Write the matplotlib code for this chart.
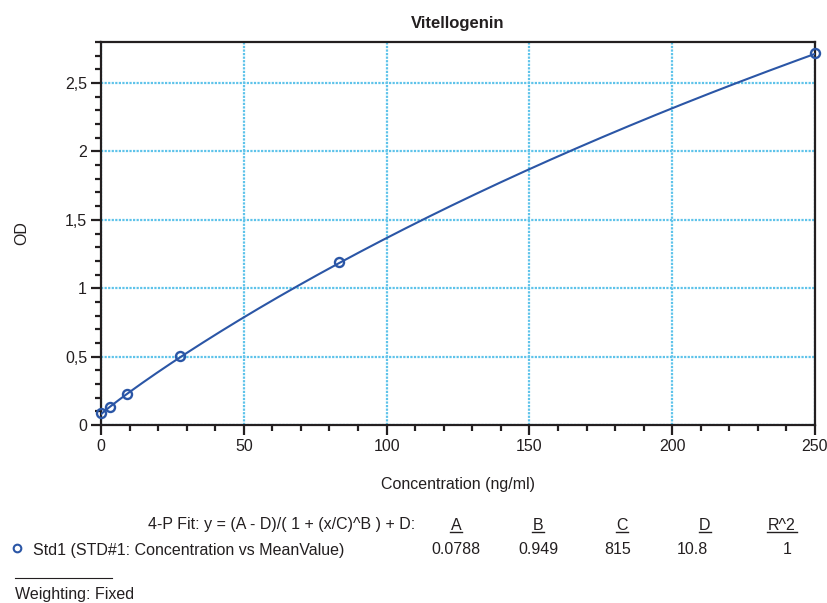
import numpy as np
import matplotlib
matplotlib.use("Agg")
import matplotlib.pyplot as plt
from matplotlib.ticker import MultipleLocator, FuncFormatter
from matplotlib.lines import Line2D

plt.rcParams['font.family'] = ['Liberation Sans', 'DejaVu Sans']

# standards (concentration, mean OD)
conc = [0, 3.09, 9.26, 27.8, 83.3, 250]
od = [0.09, 0.133, 0.228, 0.503, 1.19, 2.72]

# 4-P fit parameters shown in the chart
fit_names = ['A', 'B', 'C', 'D', 'R^2']
fit_vals = ['0.0788', '0.949', '815', '10.8', '1']
A, B, C, D = 0.0788, 0.949, 815, 10.8

blue = '#2b56a6'
grid_col = '#5ec3ea'
txt = '#231f20'

fig = plt.figure(figsize=(8.28, 6.03), dpi=100)
ax = fig.add_axes([101/828, 1-425/603, (815-101)/828, (425-42)/603])

xc = np.linspace(0, 250, 400)
yc = (A - D) / (1 + (xc / C) ** B) + D
ax.plot(xc, yc, color=blue, lw=1.5, zorder=3)
ax.plot(conc, od, 'o', mfc='none', mec=blue, mew=1.7, ms=6.5, zorder=4, clip_on=False)

ax.set_xlim(0, 250)
ax.set_ylim(0, 2.8)
ax.xaxis.set_major_locator(MultipleLocator(50))
ax.xaxis.set_minor_locator(MultipleLocator(10))
ax.yaxis.set_major_locator(MultipleLocator(0.5))
ax.yaxis.set_minor_locator(MultipleLocator(0.1))
ax.yaxis.set_major_formatter(FuncFormatter(lambda v, p: ('%g' % v).replace('.', ',')))
ax.grid(True, which='major', color=grid_col, ls=(0, (1, 0.6)), lw=1.6)
ax.set_axisbelow(True)
for s in ax.spines.values():
    s.set_color(txt)
    s.set_linewidth(1.6)
ax.tick_params(which='major', direction='out', length=7, width=1.6, color=txt,
               labelsize=11.5, labelcolor=txt, pad=3)
ax.tick_params(which='minor', direction='out', length=4, width=1.6, color=txt)

ax.set_title('Vitellogenin', fontsize=12, fontweight='bold', color=txt, pad=10)
ax.set_xlabel('Concentration (ng/ml)', fontsize=11.5, color=txt)
ax.set_ylabel('OD', fontsize=11.5, color=txt)
ax.xaxis.set_label_coords(0.5, (425 - 484) / 383, transform=ax.transAxes)
ax.yaxis.set_label_coords((22 - 101) / 714, 0.5, transform=ax.transAxes)
ax.xaxis.label.set_va('center')
ax.yaxis.label.set_va('center')

W, H = 828, 603
def ft(x, y, s, ha='left'):
    fig.text(x / W, 1 - y / H, s, ha=ha, va='center', fontsize=11.5, color=txt)

ft(415, 525, '4-P Fit: y = (A - D)/( 1 + (x/C)^B ) + D:', ha='right')
head_x = [456, 538, 622, 705, 782]
val_x = [456, 538, 618, 692, 787]
for name, hx in zip(fit_names, head_x):
    fig.text(hx / W, 1 - 525 / H, name, ha='center', va='center', fontsize=11.5, color=txt)
    w = 12 if name != 'R^2' else 30
    fig.add_artist(Line2D([(hx - w/2) / W, (hx + w/2) / W], [1 - 532 / H] * 2, color=txt, lw=1))
for v, vx in zip(fit_vals, val_x):
    ft(vx, 550, v, ha='center')

fig.add_artist(Line2D([17 / W], [1 - 548 / H], marker='o', mfc='none', mec=blue, mew=1.5, ms=5.5))
ft(33, 550, 'Std1 (STD#1: Concentration vs MeanValue)')
fig.add_artist(Line2D([15 / W, 112 / W], [1 - 578 / H] * 2, color=txt, lw=0.8))
ft(15, 595, 'Weighting: Fixed')

fig.savefig('out.png', dpi=100)
